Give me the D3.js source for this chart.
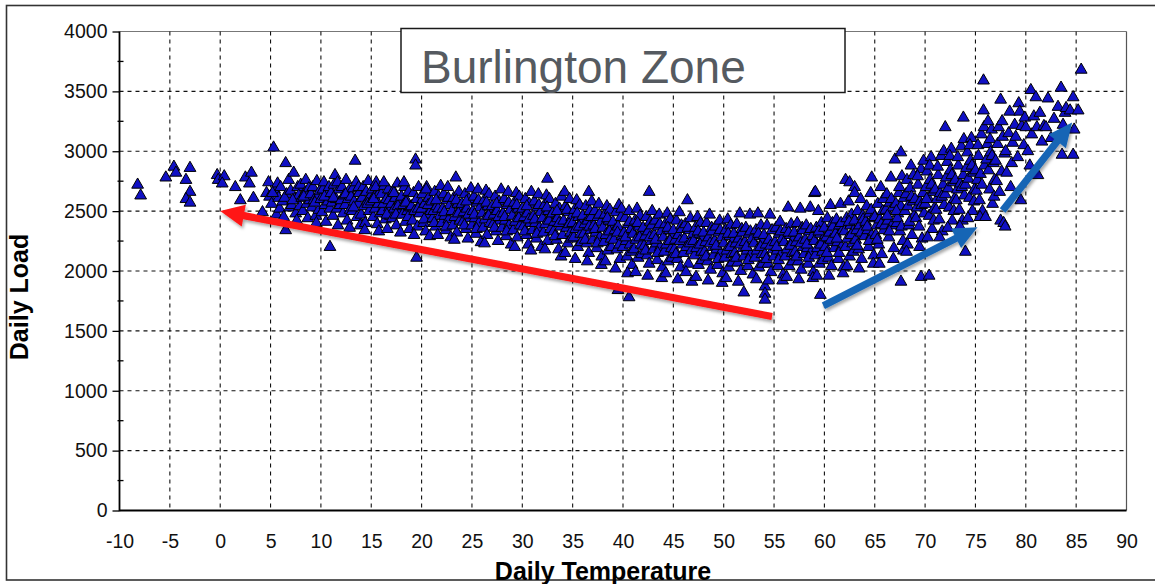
<!DOCTYPE html>
<html>
<head>
<meta charset="utf-8">
<title>Burlington Zone</title>
<script src="https://cdn.jsdelivr.net/npm/d3@7"></script>
<style>
  body{margin:0;background:#fff;}
  text{font-family:"Liberation Sans", Arial, sans-serif;}
</style>
</head>
<body>
<script>
// daily temperature (F) vs daily load
var coldDays = [
[-8.2,2720],[-7.9,2630],[-5.4,2780],[-4.6,2870],[-4.4,2820],[-3.4,2760],[-3.0,2860],[-3.0,2660],[-3.4,2600],[-3.0,2570],
[-0.3,2800],[-0.2,2760],[0.4,2790],[0.2,2730],[1.5,2700],[2.5,2780],[3.1,2820],[2.9,2730],[2.0,2590],[3.3,2610],
[4.2,2490],[4.6,2650],[4.8,2740],[4.9,2620],
[5.1,2560],[5.3,3030],[5.4,2680],[5.6,2470],[5.7,2730],[5.8,2610],[5.9,2520],[5.2,2650],
[6.0,2700],[6.2,2580],[6.3,2450],[6.5,2900],[6.5,2340],[6.6,2640],[6.8,2760],[6.9,2530],[6.4,2610],
[7.0,2670],[7.1,2550],[7.3,2820],[7.4,2600],[7.5,2480],[7.7,2700],[7.8,2630],[7.9,2540],[7.2,2590],[7.6,2420],
[8.0,2720],[8.1,2610],[8.2,2500],[8.4,2650],[8.5,2760],[8.6,2560],[8.7,2440],[8.8,2690],[8.9,2590],[8.3,2620],
[9.0,2640],[9.1,2530],[9.2,2700],[9.3,2590],[9.5,2460],[9.6,2750],[9.7,2620],[9.8,2510],[9.9,2670],[9.4,2570],[9.55,2400]
]

var coolDays = [
[10.0,2600],[10.1,2490],[10.2,2680],[10.3,2740],[10.4,2550],[10.5,2410],[10.6,2640],[10.7,2580],[10.8,2700],[10.9,2200],[10.9,2520],[10.35,2620],
[11.0,2650],[11.1,2570],[11.2,2460],[11.3,2720],[11.4,2800],[11.5,2600],[11.6,2520],[11.7,2380],[11.8,2680],[11.9,2550],[11.25,2610],[11.65,2740],
[12.0,2590],[12.1,2700],[12.2,2480],[12.3,2630],[12.4,2550],[12.5,2760],[12.6,2420],[12.7,2600],[12.8,2670],[12.9,2510],[12.45,2640],[12.85,2360],
[13.0,2620],[13.1,2500],[13.2,2690],[13.3,2580],[13.4,2920],[13.5,2740],[13.6,2450],[13.7,2560],[13.8,2650],[13.9,2380],[13.25,2530],[13.75,2700],
[14.0,2470],[14.1,2610],[14.2,2700],[14.3,2540],[14.4,2400],[14.5,2660],[14.6,2580],[14.7,2750],[14.8,2500],[14.9,2620],[14.35,2340],[14.65,2560],
[15.0,2580],[15.1,2680],[15.2,2450],[15.3,2620],[15.4,2520],[15.5,2740],[15.6,2390],[15.7,2560],[15.8,2650],[15.9,2480],[15.25,2600],[15.75,2330],[15.45,2700],
[16.0,2640],[16.1,2500],[16.2,2560],[16.3,2710],[16.4,2430],[16.5,2600],[16.6,2350],[16.7,2680],[16.8,2530],[16.9,2460],[16.25,2740],[16.75,2590],[16.55,2470],
[17.0,2560],[17.1,2440],[17.2,2670],[17.3,2520],[17.4,2610],[17.5,2380],[17.6,2730],[17.7,2490],[17.8,2580],[17.9,2320],[17.25,2650],[17.65,2540],[17.45,2470],
[18.0,2620],[18.1,2470],[18.2,2550],[18.3,2700],[18.4,2410],[18.5,2590],[18.6,2500],[18.7,2660],[18.8,2350],[18.9,2530],[18.25,2740],[18.65,2450],[18.45,2570],
[19.0,2540],[19.1,2420],[19.2,2650],[19.3,2500],[19.4,2930],[19.4,2880],[19.5,2110],[19.5,2600],[19.6,2370],[19.7,2700],[19.8,2480],[19.9,2570],[19.25,2300],[19.65,2520],
[20.0,2520],[20.1,2640],[20.2,2400],[20.3,2560],[20.4,2330],[20.5,2700],[20.6,2470],[20.7,2610],[20.8,2290],[20.9,2500],[20.25,2430],[20.65,2550],[20.45,2680],
[21.0,2580],[21.1,2440],[21.2,2500],[21.3,2660],[21.4,2370],[21.5,2540],[21.6,2300],[21.7,2620],[21.8,2460],[21.9,2710],[21.25,2400],[21.65,2520],[21.45,2590],
[22.0,2400],[22.1,2520],[22.2,2640],[22.3,2460],[22.4,2340],[22.5,2590],[22.6,2700],[22.7,2430],[22.8,2550],[22.9,2280],[22.25,2490],[22.65,2610],[22.45,2370],
[23.0,2500],[23.1,2380],[23.2,2610],[23.3,2450],[23.4,2780],[23.5,2320],[23.6,2560],[23.7,2660],[23.8,2420],[23.9,2530],[23.25,2260],[23.65,2480],[23.45,2590],
[24.0,2560],[24.1,2410],[24.2,2490],[24.3,2640],[24.4,2350],[24.5,2520],[24.6,2270],[24.7,2600],[24.8,2440],[24.9,2690],[24.25,2380],[24.65,2470],[24.45,2580],
[25.0,2380],[25.1,2500],[25.2,2620],[25.3,2440],[25.4,2310],[25.5,2570],[25.6,2680],[25.7,2400],[25.8,2530],[25.9,2240],[25.25,2470],[25.65,2590],[25.45,2350],
[26.0,2480],[26.1,2360],[26.2,2590],[26.3,2430],[26.4,2670],[26.5,2300],[26.6,2540],[26.7,2640],[26.8,2400],[26.9,2510],[26.25,2230],[26.65,2460],[26.45,2570],
[27.0,2540],[27.1,2390],[27.2,2470],[27.3,2620],[27.4,2330],[27.5,2500],[27.6,2250],[27.7,2580],[27.8,2420],[27.9,2680],[27.25,2360],[27.65,2450],[27.45,2560],
[28.0,2360],[28.1,2480],[28.2,2600],[28.3,2420],[28.4,2290],[28.5,2550],[28.6,2660],[28.7,2380],[28.8,2510],[28.9,2220],[28.25,2450],[28.65,2570],[28.45,2330],
[29.0,2460],[29.1,2340],[29.2,2570],[29.3,2410],[29.4,2650],[29.5,2280],[29.6,2520],[29.7,2620],[29.8,2380],[29.9,2490],[29.25,2200],[29.65,2440],[29.45,2550]
]

var mildDays = [
[30.0,2520],[30.1,2370],[30.2,2450],[30.3,2600],[30.4,2300],[30.5,2480],[30.6,2220],[30.7,2560],[30.8,2400],[30.9,2660],[30.25,2330],[30.65,2430],[30.45,2540],[30.85,2170],
[31.0,2340],[31.1,2460],[31.2,2580],[31.3,2400],[31.4,2270],[31.5,2530],[31.6,2640],[31.7,2360],[31.8,2490],[31.9,2200],[31.25,2430],[31.65,2550],[31.45,2310],
[32.0,2440],[32.1,2320],[32.2,2550],[32.3,2390],[32.4,2630],[32.5,2770],[32.5,2250],[32.6,2500],[32.7,2600],[32.8,2350],[32.9,2470],[32.25,2180],[32.65,2420],[32.45,2530],
[33.0,2480],[33.1,2330],[33.2,2410],[33.3,2560],[33.4,2260],[33.5,2440],[33.6,2180],[33.7,2520],[33.8,2370],[33.9,2620],[33.25,2290],[33.65,2400],[33.45,2500],[33.85,2120],
[34.0,2300],[34.1,2420],[34.2,2660],[34.3,2540],[34.4,2360],[34.5,2230],[34.6,2490],[34.7,2600],[34.8,2320],[34.9,2450],[34.25,2150],[34.65,2390],[34.45,2510],[34.85,2270],
[35.0,2400],[35.1,2280],[35.2,2510],[35.3,2350],[35.4,2590],[35.5,2200],[35.6,2450],[35.7,2550],[35.8,2310],[35.9,2420],[35.25,2100],[35.65,2370],[35.45,2480],[35.85,2240],
[36.0,2460],[36.1,2310],[36.2,2390],[36.3,2540],[36.4,2230],[36.5,2420],[36.6,2660],[36.6,2150],[36.7,2500],[36.8,2340],[36.9,2580],[36.25,2260],[36.65,2370],[36.45,2080],[36.85,2450],
[37.0,2260],[37.1,2380],[37.2,2500],[37.3,2320],[37.4,2190],[37.5,2450],[37.6,2560],[37.7,2280],[37.8,2410],[37.9,2120],[37.25,2350],[37.65,2470],[37.45,2230],[37.85,2050],
[38.0,2360],[38.1,2240],[38.2,2470],[38.3,2300],[38.4,2540],[38.5,2170],[38.6,2420],[38.7,2510],[38.8,2270],[38.9,2380],[38.25,2080],[38.65,2330],[38.45,2440],[38.85,2200],
[39.0,2410],[39.1,2260],[39.2,2340],[39.3,2490],[39.4,2180],[39.5,1840],[39.5,2370],[39.6,2550],[39.7,2100],[39.8,2450],[39.9,2290],[39.25,2020],[39.65,2220],[39.45,2320],[39.85,2520],
[40.0,2200],[40.1,2320],[40.2,2440],[40.3,2250],[40.4,2120],[40.5,2390],[40.6,1780],[40.6,2500],[40.7,2220],[40.8,2350],[40.9,2050],[40.25,2280],[40.65,2410],[40.45,1980],[40.85,2160],
[41.0,2310],[41.1,2180],[41.2,2420],[41.3,2260],[41.4,2520],[41.5,2110],[41.6,2370],[41.7,2460],[41.8,2220],[41.9,2330],[41.25,1990],[41.65,2280],[41.45,2400],[41.85,2140],
[42.0,2360],[42.1,2210],[42.2,2290],[42.3,2450],[42.4,2130],[42.5,2330],[42.6,2660],[42.6,2060],[42.7,2410],[42.8,2250],[42.9,2500],[42.25,2170],[42.65,2280],[42.45,1960],[42.85,2380],
[43.0,2180],[43.1,2300],[43.2,2420],[43.3,2230],[43.4,2090],[43.5,2370],[43.6,2470],[43.7,2200],[43.8,2330],[43.9,2030],[43.25,2260],[43.65,2390],[43.45,2150],[43.85,1940],
[44.0,2280],[44.1,2160],[44.2,2390],[44.3,2220],[44.4,2480],[44.5,2080],[44.6,2340],[44.7,2430],[44.8,2190],[44.9,2300],[44.25,1980],[44.65,2250],[44.45,2360],[44.85,2110],
[45.0,2340],[45.1,2180],[45.2,2260],[45.3,2420],[45.4,2100],[45.5,2300],[45.6,2490],[45.7,2030],[45.8,2380],[45.9,2220],[45.25,2140],[45.65,2250],[45.45,1930],[45.85,2350],
[46.0,2150],[46.1,2270],[46.2,2390],[46.3,2200],[46.4,2590],[46.5,2060],[46.6,2340],[46.7,2440],[46.8,2170],[46.9,2300],[46.25,1990],[46.65,2230],[46.45,2360],[46.85,1910],
[47.0,2250],[47.1,2130],[47.2,2360],[47.3,2190],[47.4,2450],[47.5,2050],[47.6,2310],[47.7,2400],[47.8,2160],[47.9,2270],[47.25,1950],[47.65,2220],[47.45,2330],[47.85,2090],
[48.0,2320],[48.1,2160],[48.2,2240],[48.3,2400],[48.4,2080],[48.5,2280],[48.6,2470],[48.7,2010],[48.8,2360],[48.9,2200],[48.25,2120],[48.65,2230],[48.45,1920],[48.85,2330],
[49.0,2130],[49.1,2250],[49.2,2370],[49.3,2180],[49.4,2050],[49.5,2320],[49.6,2420],[49.7,2150],[49.8,2280],[49.9,1980],[49.25,2210],[49.65,2340],[49.45,2100],[49.85,1900]
]

var warmDays = [
[50.0,2230],[50.1,2110],[50.2,2340],[50.3,2170],[50.4,2430],[50.5,2030],[50.6,2290],[50.7,2380],[50.8,2140],[50.9,2250],[50.25,1940],[50.65,2200],[50.45,2310],[50.85,2070],
[51.0,2310],[51.1,2150],[51.2,2230],[51.3,2390],[51.4,2070],[51.5,2270],[51.6,2480],[51.7,2000],[51.8,2350],[51.9,2190],[51.25,2110],[51.65,2220],[51.45,1910],[51.85,2320],
[52.0,2120],[52.1,2240],[52.2,2360],[52.3,2170],[52.4,2040],[52.5,2310],[52.6,2470],[52.7,2140],[52.8,2270],[52.9,1970],[52.25,2200],[52.65,2330],[52.45,2090],[52.0,1820],
[53.0,2230],[53.1,2110],[53.2,2340],[53.3,2170],[53.4,2480],[53.5,2030],[53.6,2290],[53.7,2380],[53.8,2140],[53.9,2250],[53.25,1930],[53.65,2200],[53.45,2310],[53.85,2060],
[54.0,2300],[54.1,2140],[54.1,1870],[54.1,1810],[54.1,1760],[54.2,2220],[54.3,2380],[54.4,2060],[54.5,2260],[54.6,2470],[54.7,1990],[54.8,2340],[54.9,2180],[54.25,2100],[54.65,2210],[54.45,1920],
[55.0,2120],[55.1,2240],[55.2,2360],[55.3,2170],[55.4,2040],[55.5,2310],[55.6,2410],[55.7,2140],[55.8,2270],[55.9,1970],[55.25,2200],[55.65,2330],[55.45,2090],[55.85,1920],
[56.0,2240],[56.1,2120],[56.2,2350],[56.3,2180],[56.4,2530],[56.5,2040],[56.6,2300],[56.7,2390],[56.8,2150],[56.9,2260],[56.25,1950],[56.65,2210],[56.45,2320],[56.85,2080],
[57.0,2320],[57.1,2160],[57.2,2240],[57.3,2400],[57.4,2080],[57.5,2280],[57.6,2520],[57.7,2010],[57.8,2360],[57.9,2200],[57.25,2120],[57.65,2230],[57.45,1930],[57.85,2340],
[58.0,2140],[58.1,2260],[58.2,2380],[58.3,2190],[58.4,2060],[58.5,2330],[58.6,2530],[58.7,2160],[58.8,2290],[58.9,1990],[58.25,2220],[58.65,2350],[58.45,2110],[58.85,1940],
[59.0,2650],[59.0,2250],[59.1,2660],[59.1,2130],[59.2,2360],[59.3,2190],[59.4,2500],[59.5,2060],[59.6,1800],[59.6,2310],[59.7,2400],[59.8,2160],[59.9,2270],[59.25,1960],[59.65,2220],[59.45,2330],[59.85,2090],
[60.0,2360],[60.1,2200],[60.2,2280],[60.3,2440],[60.4,2110],[60.5,2320],[60.6,2550],[60.7,2040],[60.8,2400],[60.9,2240],[60.25,2150],[60.65,2260],[60.45,1960],[60.85,2370],
[61.0,2190],[61.1,2310],[61.2,2430],[61.3,2240],[61.4,2100],[61.5,2380],[61.6,2560],[61.7,2200],[61.8,2340],[61.9,2030],[61.25,2270],[61.65,2400],[61.45,2150],[61.85,1980],
[62.0,2330],[62.1,2200],[62.1,2760],[62.2,2440],[62.3,2270],[62.4,2580],[62.5,2740],[62.5,2120],[62.6,2380],[62.7,2470],[62.8,2230],[62.9,2340],[62.25,2040],[62.65,2300],[62.45,2410],[62.85,2160],
[63.0,2700],[63.0,2650],[63.0,2420],[63.1,2260],[63.2,2340],[63.3,2500],[63.4,2180],[63.5,2380],[63.6,2600],[63.7,2100],[63.8,2460],[63.9,2300],[63.25,2210],[63.65,2320],[63.45,2020],[63.85,2430],
[64.0,2290],[64.1,2410],[64.2,2540],[64.3,2340],[64.4,2200],[64.5,2480],[64.7,2780],[64.6,2650],[64.7,2300],[64.8,2440],[64.9,2130],[64.25,2370],[64.65,2510],[64.45,2250],[64.85,2060]
]

var hotDays = [
[65.0,2450],[65.1,2300],[65.2,2380],[65.3,2560],[65.4,2220],[65.5,2430],[65.6,2700],[65.7,2140],[65.8,2500],[65.9,2340],[65.25,2260],[65.65,2390],[65.45,2060],[65.85,2600],
[66.0,2380],[66.1,2510],[66.2,2640],[66.3,2420],[66.4,2280],[66.5,2570],[66.6,2780],[66.7,2380],[66.8,2530],[66.9,2190],[66.25,2460],[66.65,2600],[66.45,2330],[66.85,2100],
[67.0,2930],[67.1,2560],[67.2,2400],[67.3,2480],[67.4,2650],[67.5,2330],[67.6,2990],[67.6,1910],[67.6,2540],[67.7,2790],[67.8,2250],[67.9,2610],[67.25,2440],[67.65,2370],[67.45,2700],[67.85,2170],[67.15,2500],
[68.0,2500],[68.1,2640],[68.2,2760],[68.3,2540],[68.4,2380],[68.5,2690],[68.6,2880],[68.7,2300],[68.8,2580],[68.9,2460],[68.25,2220],[68.65,2620],[68.45,2410],[68.85,2800],[68.15,2160],
[69.0,2600],[69.1,2440],[69.2,2530],[69.3,2720],[69.4,2370],[69.5,2580],[69.6,2850],[69.6,1950],[69.7,2270],[69.8,2650],[69.9,2480],[69.25,2790],[69.65,2550],[69.45,2200],[69.85,2920],
[70.0,2560],[70.1,2700],[70.2,2830],[70.3,2610],[70.4,1960],[70.4,2460],[70.5,2760],[70.6,2950],[70.7,2350],[70.8,2660],[70.9,2520],[70.25,2280],[70.65,2720],[70.45,2880],[70.85,2420],[70.15,2600],
[71.0,2680],[71.1,2510],[71.2,2600],[71.3,2800],[71.4,2430],[71.5,2650],[71.6,2960],[71.7,2330],[71.8,2720],[71.9,2550],[71.25,2870],[71.65,2620],[71.45,2280],[71.85,3000],
[72.0,3200],[72.0,2640],[72.1,2780],[72.2,2910],[72.3,2690],[72.4,2530],[72.5,2840],[72.6,3020],[72.7,2420],[72.8,2740],[72.9,2600],[72.25,2360],[72.65,2800],[72.45,2960],[72.85,2500],
[73.0,2760],[73.1,2590],[73.2,2680],[73.3,2880],[73.4,2510],[73.5,2730],[73.6,3040],[73.7,2420],[73.8,2800],[73.8,3280],[73.9,2630],[73.25,2950],[73.65,2700],[73.45,2370],[73.85,3100],
[74.0,2720],[74.0,2160],[74.1,2860],[74.2,2990],[74.3,2770],[74.4,2610],[74.5,2920],[74.6,3110],[74.7,2500],[74.8,2820],[74.9,2680],[74.25,2440],[74.65,2880],[74.45,3050],[74.85,2580],
[75.0,2840],[75.1,2670],[75.2,2760],[75.3,2960],[75.4,2590],[75.5,2810],[75.6,3140],[75.7,2500],[75.8,3340],[75.8,3590],[75.9,2880],[75.25,3050],[75.65,2720],[75.45,2450],[75.85,3200],
[76.0,2450],[76.1,2930],[76.2,3060],[76.3,2840],[76.4,2680],[76.5,2990],[76.6,3180],[76.7,2560],[76.8,2900],[76.9,2760],[76.25,3250],[76.65,2960],[76.45,3100],[76.85,2620],
[77.0,2920],[77.1,2750],[77.2,3060],[77.3,3200],[77.5,3430],[77.5,2420],[77.6,2830],[77.7,3120],[77.8,2400],[77.9,2980],[77.95,2370],[77.4,2660],[77.65,3250],
[78.0,3000],[78.1,2820],[78.3,3150],[78.4,3330],[78.5,2700],[78.7,3070],[78.9,3220],[78.6,2900],
[79.0,3120],[79.2,2950],[79.3,3400],[79.4,3330],[79.5,2590],[79.6,3210],[79.8,3050],[79.9,3280],
[80.0,3200],[80.2,3000],[80.5,3510],[80.6,3140],[80.8,3290],[80.4,2880],
[81.0,3450],[81.1,3200],[81.2,2800],[81.4,3320],[81.6,3080],[81.8,3210],
[82.0,3200],[82.2,3440],[82.5,3110],[82.8,3270],
[83.2,3370],[83.5,3530],[83.6,2970],[83.7,3220],[83.9,3320],
[84.0,3360],[84.4,3340],[84.7,3450],[84.7,2970],[84.8,3180],
[85.2,3340],[85.5,3680]
]

// trend arrows drawn on top, [tailTemp, tailLoad, tipTemp, tipLoad]
var arrows = [
  {from:[54.8,1620], to:[0,2500], color:"#ff1414"},
  {from:[59.9,1710], to:[75.2,2365], color:"#1765b5"},
  {from:[77.7,2505], to:[84.6,3240], color:"#1765b5"}
]

var xTicks = [-10,-5,0,5,10,15,20,25,30,35,40,45,50,55,60,65,70,75,80,85,90]
var yTicks = [0,500,1000,1500,2000,2500,3000,3500,4000]
var yMinor = [250,750,1250,1750,2250,2750,3250,3750]
var chartTitle = "Burlington Zone"

var allDays = coldDays.concat(coolDays, mildDays, warmDays, hotDays)

var svg = d3.select("body").append("svg")
    .attr("width", 1155)
    .attr("height", 584)

var defs = svg.append("defs")
var shadow = defs.append("filter").attr("id", "shadow")
    .attr("x", "-10%").attr("y", "-10%").attr("width", "130%").attr("height", "140%")
shadow.append("feDropShadow")
    .attr("dx", 1.5).attr("dy", 2.5).attr("stdDeviation", 1.5)
    .attr("flood-color", "#000").attr("flood-opacity", 0.35)

var x = d3.scaleLinear().domain([-10, 90]).range([119.5, 1126.5])
var y = d3.scaleLinear().domain([0, 4000]).range([510.5, 31.5])

// outer frame
svg.append("rect")
    .attr("x", 6.5).attr("y", 5.5)
    .attr("width", 1160).attr("height", 574.5)
    .attr("fill", "none").attr("stroke", "#333").attr("stroke-width", 1.6)

// plot frame (top / right are lighter)
svg.append("line")
    .attr("x1", x(-10)).attr("x2", x(90)).attr("y1", y(4000)).attr("y2", y(4000))
    .attr("stroke", "#777").attr("stroke-width", 1)
svg.append("line")
    .attr("x1", x(90)).attr("x2", x(90)).attr("y1", y(4000)).attr("y2", y(0))
    .attr("stroke", "#555").attr("stroke-width", 1.2)

// dashed grid
svg.selectAll("line.vgrid")
    .data(xTicks.filter(d => d > -10 && d < 90))
    .enter().append("line")
    .attr("class", "vgrid")
    .attr("x1", d => x(d)).attr("x2", d => x(d))
    .attr("y1", y(4000)).attr("y2", y(0))
    .attr("stroke", "#111").attr("stroke-width", 1.1)
    .attr("stroke-dasharray", "4,4")

svg.selectAll("line.hgrid")
    .data(yTicks.filter(d => d > 0 && d < 4000))
    .enter().append("line")
    .attr("class", "hgrid")
    .attr("x1", x(-10)).attr("x2", x(90))
    .attr("y1", d => y(d)).attr("y2", d => y(d))
    .attr("stroke", "#111").attr("stroke-width", 1.1)
    .attr("stroke-dasharray", "4,4")

// axes
var yAxis = d3.axisLeft(y).tickValues(yTicks).tickSize(7).tickPadding(5).tickFormat(d => String(d))
var gy = svg.append("g").attr("transform", "translate(" + x(-10) + ",0)").call(yAxis)
gy.select(".domain").remove()
gy.selectAll("text").style("font-size", "19.5px").attr("fill", "#111")
gy.selectAll("line").attr("stroke", "#000").attr("stroke-width", 1.3)

svg.selectAll("line.minor")
    .data(yMinor)
    .enter().append("line")
    .attr("class", "minor")
    .attr("x1", x(-10) - 2).attr("x2", x(-10) + 4)
    .attr("y1", d => y(d)).attr("y2", d => y(d))
    .attr("stroke", "#000").attr("stroke-width", 1.3)

var xAxis = d3.axisBottom(x).tickValues(xTicks).tickSize(0).tickPadding(24).tickFormat(d => String(d))
var gx = svg.append("g").attr("transform", "translate(0," + y(0) + ")").call(xAxis)
gx.select(".domain").remove()
gx.selectAll("text").style("font-size", "19.5px").attr("fill", "#111")

svg.append("line")
    .attr("x1", x(-10)).attr("x2", x(-10)).attr("y1", y(4000)).attr("y2", y(0) + 0.8)
    .attr("stroke", "#000").attr("stroke-width", 1.8)
svg.append("line")
    .attr("x1", x(-10)).attr("x2", x(90)).attr("y1", y(0)).attr("y2", y(0))
    .attr("stroke", "#000").attr("stroke-width", 1.8)

// points
var tri = d3.symbol().type(d3.symbolTriangle).size(60)
svg.append("g").selectAll("path.day")
    .data(allDays)
    .enter().append("path")
    .attr("class", "day")
    .attr("d", tri)
    .attr("transform", d => "translate(" + x(d[0]) + "," + y(d[1]) + ")")
    .attr("fill", "#1010c4")
    .attr("stroke", "#000")
    .attr("stroke-width", 1)

// arrows
function arrowPath(a){
    var x1 = x(a.from[0]), y1 = y(a.from[1]), x2 = x(a.to[0]), y2 = y(a.to[1])
    var len = Math.hypot(x2 - x1, y2 - y1)
    var ux = (x2 - x1) / len, uy = (y2 - y1) / len
    var nx = -uy, ny = ux
    var w = 3.6, hw = 11, hl = 24
    var bx = x2 - ux * hl, by = y2 - uy * hl
    var pts = [
        [x1 + nx * w, y1 + ny * w],
        [bx + nx * w, by + ny * w],
        [bx + nx * hw, by + ny * hw],
        [x2, y2],
        [bx - nx * hw, by - ny * hw],
        [bx - nx * w, by - ny * w],
        [x1 - nx * w, y1 - ny * w]
    ]
    return "M" + pts.map(p => p[0].toFixed(1) + "," + p[1].toFixed(1)).join("L") + "Z"
}
svg.selectAll("path.arrow")
    .data(arrows)
    .enter().append("path")
    .attr("class", "arrow")
    .attr("d", arrowPath)
    .attr("fill", d => d.color)
    .attr("filter", "url(#shadow)")

// title box
svg.append("rect")
    .attr("x", 401).attr("y", 28.5)
    .attr("width", 444).attr("height", 64)
    .attr("fill", "#fff").attr("stroke", "#1a1a1a").attr("stroke-width", 1.5)
svg.append("text")
    .attr("x", 421).attr("y", 83)
    .style("font-size", "46px")
    .attr("fill", "#555a60")
    .text(chartTitle)

// axis titles
svg.append("text")
    .attr("x", 603).attr("y", 580)
    .attr("text-anchor", "middle")
    .style("font-size", "25px").style("font-weight", "bold")
    .attr("fill", "#000")
    .text("Daily Temperature")

svg.append("text")
    .attr("transform", "translate(28,297) rotate(-90)")
    .attr("text-anchor", "middle")
    .style("font-size", "25px").style("font-weight", "bold")
    .attr("fill", "#000")
    .text("Daily Load")
</script>
</body>
</html>
